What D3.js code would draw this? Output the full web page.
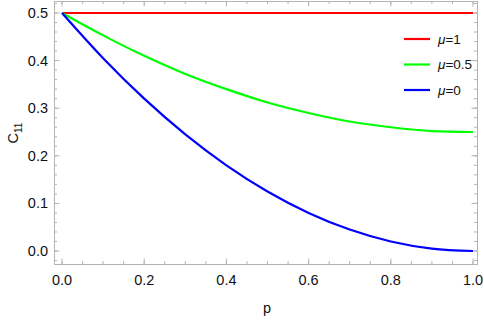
<!DOCTYPE html>
<html>
<head>
<meta charset="utf-8">
<script src="https://cdn.jsdelivr.net/npm/d3@7"></script>
<style>
body { margin: 0; background: #fff; }
svg { display: block; font-family: "Liberation Sans", Arial, sans-serif; }
</style>
</head>
<body>
<svg id="chart" width="484" height="321"></svg>
<script>
// values at p = 0, 0.1, ... 1
var pVals = [0, 0.1, 0.2, 0.3, 0.4, 0.5, 0.6, 0.7, 0.8, 0.9, 1.0];
var mu1 = [0.5, 0.5, 0.5, 0.5, 0.5, 0.5, 0.5, 0.5, 0.5, 0.5, 0.5];
var mu05 = [0.5, 0.453, 0.41, 0.372, 0.34, 0.312, 0.29, 0.272, 0.26, 0.252, 0.25];
var mu0 = [0.5, 0.405, 0.32, 0.245, 0.18, 0.125, 0.08, 0.045, 0.02, 0.005, 0];
var seriesNames = ["μ=1", "μ=0.5", "μ=0"];
var seriesColors = ["#ff0000", "#00ff00", "#0000ff"];
var xTicks = [0, 0.2, 0.4, 0.6, 0.8, 1.0];
var yTicks = [0, 0.1, 0.2, 0.3, 0.4, 0.5];

var svg = d3.select("#chart");
var pLeft = 54, pRight = 477, pTop = 1, pBottom = 264;

var x = d3.scaleLinear().domain([-0.0195, 1.0097]).range([pLeft, pRight]);
var y = d3.scaleLinear().domain([-0.0273, 0.5252]).range([pBottom, pTop]);

var frameColor = "#b4b4b4";

// minor ticks
var xMinor = d3.range(0, 1.0001, 0.05);
var yMinor = d3.range(-0.02, 0.5201, 0.02);

var g = svg.append("g");

function ticksAlong(vals, isX, len, edge) {
    g.selectAll(null).data(vals).enter().append("line")
        .attr("x1", function(d) { return isX ? x(d) : edge; })
        .attr("x2", function(d) { return isX ? x(d) : edge + len; })
        .attr("y1", function(d) { return isX ? edge : y(d); })
        .attr("y2", function(d) { return isX ? edge + len : y(d); })
        .attr("stroke", frameColor)
        .attr("stroke-width", 1);
}
ticksAlong(xMinor, true, -3, pBottom);
ticksAlong(xTicks, true, -5.5, pBottom);
ticksAlong(xMinor, true, 3, pTop);
ticksAlong(xTicks, true, 5.5, pTop);
ticksAlong(yMinor, false, 3, pLeft);
ticksAlong(yTicks, false, 5.5, pLeft);
ticksAlong(yMinor, false, -3, pRight);
ticksAlong(yTicks, false, -5.5, pRight);

g.append("rect")
    .attr("x", pLeft + 0.5).attr("y", pTop + 0.5)
    .attr("width", pRight - pLeft).attr("height", pBottom - pTop)
    .attr("fill", "none")
    .attr("stroke", frameColor)
    .attr("stroke-width", 1);

// tick labels
g.selectAll(null).data(xTicks).enter().append("text")
    .attr("x", function(d) { return x(d); })
    .attr("y", 285)
    .attr("text-anchor", "middle")
    .attr("font-size", 14.5)
    .attr("fill", "#111")
    .text(function(d) { return d3.format(".1f")(d); });

g.selectAll(null).data(yTicks).enter().append("text")
    .attr("x", 48)
    .attr("y", function(d) { return y(d) + 5; })
    .attr("text-anchor", "end")
    .attr("font-size", 14.5)
    .attr("fill", "#111")
    .text(function(d) { return d3.format(".1f")(d); });

// axis labels
svg.append("text")
    .attr("x", 267).attr("y", 313)
    .attr("text-anchor", "middle")
    .attr("font-size", 14.5)
    .attr("fill", "#111")
    .text("p");

var yl = svg.append("text")
    .attr("transform", "translate(18,133) rotate(-90)")
    .attr("text-anchor", "middle")
    .attr("font-size", 14.5)
    .attr("fill", "#111");
yl.append("tspan").text("C");
yl.append("tspan").attr("font-size", 10).attr("dy", 4).text("11");

// curves
var line = d3.line()
    .x(function(d) { return x(d[0]); })
    .y(function(d) { return y(d[1]); })
    .curve(d3.curveMonotoneX);

var allSeries = [mu1, mu05, mu0];
svg.selectAll(".curve")
    .data(allSeries)
    .enter()
    .append("path")
    .attr("class", "curve")
    .attr("d", function(vals) { return line(pVals.map(function(p, i) { return [p, vals[i]]; })); })
    .attr("fill", "none")
    .attr("stroke", function(d, i) { return seriesColors[i]; })
    .attr("stroke-width", 2.2);

// legend
var lg = svg.append("g");
seriesNames.forEach(function(name, i) {
    var ly = 39 + i * 25.5;
    lg.append("line")
        .attr("x1", 404).attr("x2", 430)
        .attr("y1", ly).attr("y2", ly)
        .attr("stroke", seriesColors[i])
        .attr("stroke-width", 2.2);
    var t = lg.append("text")
        .attr("x", 438).attr("y", ly + 4.5)
        .attr("font-size", 13.5)
        .attr("fill", "#111");
    t.append("tspan").attr("font-style", "italic").text(name.slice(0, 1));
    t.append("tspan").text(name.slice(1));
});
</script>
</body>
</html>
